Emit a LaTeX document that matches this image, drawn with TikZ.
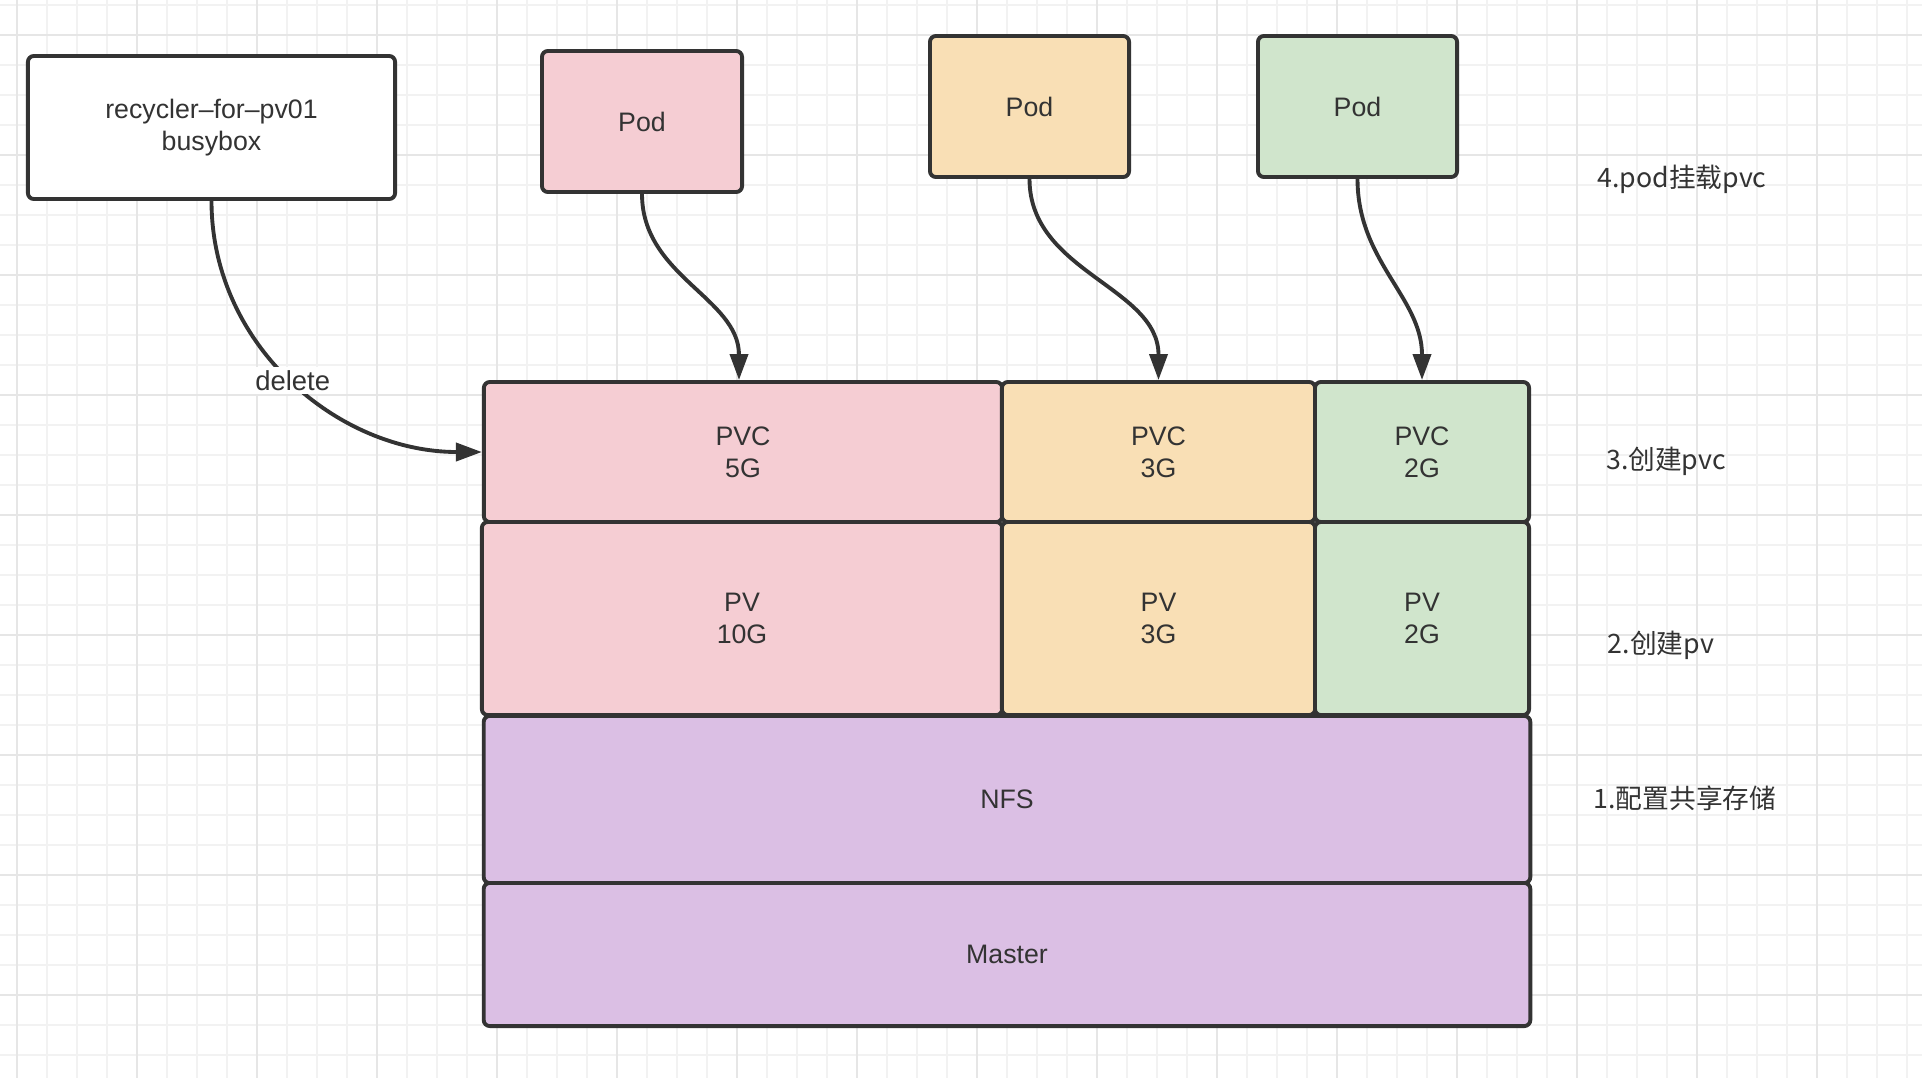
\documentclass[tikz,border=0pt]{standalone}
\usepackage{fontspec}
\setmainfont{Liberation Sans}
\newfontfamily\cjk{Noto Sans CJK SC}
\definecolor{inkgray}{HTML}{333333}
\definecolor{podpink}{HTML}{F5CDD3}
\definecolor{podorange}{HTML}{F9DFB5}
\definecolor{podgreen}{HTML}{D0E5CC}
\definecolor{nfspurple}{HTML}{DBBFE4}
\definecolor{gridminor}{HTML}{F2F2F2}
\definecolor{gridmajor}{HTML}{E6E6E6}
\usepackage{tikz}
\usetikzlibrary{arrows.meta, positioning}

\begin{document}
\begin{tikzpicture}[x=0.01cm, y=-0.01cm,
        box/.style={draw=inkgray, line width=1.1pt, rounded corners=0.06cm,
                    text=inkgray, align=center, inner sep=0pt,
                    font=\fontsize{7.6}{9.1}\selectfont},
        steplabel/.style={text=inkgray, font=\cjk\fontsize{7.6}{9}\selectfont},
        arr/.style={-{Triangle[length=0.26cm, width=0.18cm]}, inkgray, line width=1.1pt}
      ]
        \useasboundingbox (0,0) rectangle (1922,1078);
        % background grid
        \foreach \x in {17,47,...,1922} \draw[gridminor, line width=0.5pt] (\x,0) -- (\x,1078);
        \foreach \y in {5,35,...,1078} \draw[gridminor, line width=0.5pt] (0,\y) -- (1922,\y);
        \foreach \x in {17,137,...,1922} \draw[gridmajor, line width=0.6pt] (\x,0) -- (\x,1078);
        \foreach \y in {35,155,...,1078} \draw[gridmajor, line width=0.6pt] (0,\y) -- (1922,\y);

        \node[box, fill=white, minimum width=3.67cm, minimum height=1.43cm] (rec) at (211.5,127.5) {recycler–for–pv01\\busybox};
        \node[box, fill=podpink, minimum width=2.00cm, minimum height=1.41cm] (pod1) at (642,121.5) {Pod};
        \node[box, fill=podorange, minimum width=1.99cm, minimum height=1.41cm] (pod2) at (1029.5,106.5) {Pod};
        \node[box, fill=podgreen, minimum width=1.99cm, minimum height=1.41cm] (pod3) at (1357.5,106.5) {Pod};

        \node[box, fill=podpink, minimum width=5.18cm, minimum height=1.40cm] (pvc5) at (743,452) {PVC\\5G};
        \node[box, fill=podorange, minimum width=3.13cm, minimum height=1.40cm] (pvc3) at (1158.5,452) {PVC\\3G};
        \node[box, fill=podgreen, minimum width=2.14cm, minimum height=1.40cm] (pvc2) at (1422,452) {PVC\\2G};

        \node[box, fill=podpink, minimum width=5.20cm, minimum height=1.93cm] (pv10) at (742,618.5) {PV\\10G};
        \node[box, fill=podorange, minimum width=3.13cm, minimum height=1.93cm] (pv3) at (1158.5,618.5) {PV\\3G};
        \node[box, fill=podgreen, minimum width=2.14cm, minimum height=1.93cm] (pv2) at (1422,618.5) {PV\\2G};

        \node[box, fill=nfspurple, minimum width=10.46cm, minimum height=1.67cm] (nfs) at (1007,799.5) {NFS};
        \node[box, fill=nfspurple, minimum width=10.46cm, minimum height=1.43cm] (master) at (1007,954.5) {Master};

        \draw[arr] (rec.south) to[out=-90, in=180]
            node[pos=0.5, fill=white, inner sep=1pt, text=inkgray, font=\fontsize{7.8}{9.1}\selectfont] (del) {delete} (pvc5.west);
        \draw[arr] (pod1.south) to[out=-90, in=90] ([xshift=-0.04cm]pvc5.north);
        \draw[arr] (pod2.south) to[out=-90, in=90] (pvc3.north);
        \draw[arr] (pod3.south) to[out=-90, in=90] (pvc2.north);

        \node[steplabel] (s4) at (1682,179) {4.pod挂载pvc};
        \node[steplabel] (s3) at (1666,461) {3.创建pvc};
        \node[steplabel] (s2) at (1661,645) {2.创建pv};
        \node[steplabel] (s1) at (1685,798) {1.配置共享存储};
      \end{tikzpicture}
\end{document}
